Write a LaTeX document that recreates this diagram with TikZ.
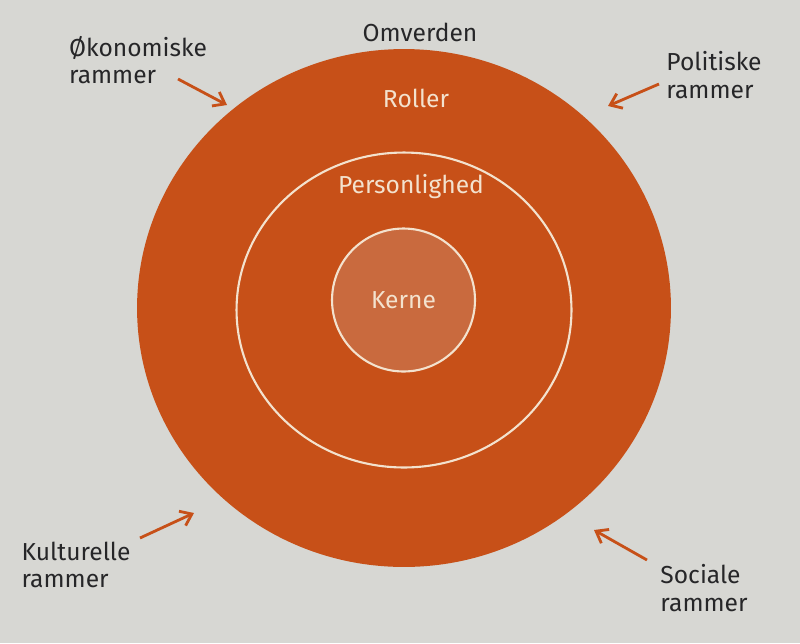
\documentclass[tikz,border=0pt]{standalone}
\usepackage{fontspec}
\setmainfont{Fira Sans}
\usetikzlibrary{shapes.geometric, arrows.meta}
\definecolor{paper}{RGB}{215,215,211}
\definecolor{ringorange}{RGB}{199,80,24}
\definecolor{coreorange}{RGB}{201,106,62}
\definecolor{cream}{RGB}{243,226,206}
\definecolor{ink}{RGB}{38,38,40}

\begin{document}
\begin{tikzpicture}[x=0.02cm, y=-0.02cm,
    ring/.style = {draw=none, fill=ringorange, ellipse, inner sep=0pt},
    inner ring/.style = {draw=cream, line width=1.2pt, ellipse, inner sep=0pt},
    core/.style = {draw=cream, line width=1.2pt, circle, fill=coreorange, inner sep=0pt, text=cream, font=\fontsize{14}{16}\selectfont},
    ring label/.style = {text=cream, font=\fontsize{14}{16}\selectfont},
    frame/.style = {text=ink, align=left, font=\fontsize{14}{15.5}\selectfont},
    push/.style = {ringorange, line width=1.6pt, -{Straight Barb[length=6pt, width=9pt, line width=1.6pt]}}]
    \fill[paper] (0,0) rectangle (800,643);
    \useasboundingbox (0,0) rectangle (800,643);

    \node[ring, minimum width=10.68cm, minimum height=10.36cm] (roller ring) at (404,308) {};
    \node[inner ring, minimum width=6.70cm, minimum height=6.30cm] (pers ring) at (404,310) {};
    \node[core, minimum size=2.86cm] (kerne) at (403.5,300) {Kerne};

    \node[ring label] (roller) at (416,98) {Roller};
    \node[ring label] (pers) at (411,187) {Personlighed};
    \node[text=ink, font=\fontsize{14}{16}\selectfont] (omverden) at (420,32) {Omverden};

    \node[frame] (oek) at (138,60) {Økonomiske\\rammer};
    \node[frame] (pol) at (714,75) {Politiske\\rammer};
    \node[frame] (kul) at (76,565) {Kulturelle\\rammer};
    \node[frame] (soc) at (704,588) {Sociale\\rammer};

    \coordinate (oek from) at (178,79);
    \coordinate (oek to) at (227,105);
    \coordinate (pol from) at (659,84);
    \coordinate (pol to) at (608,106);
    \coordinate (kul from) at (140,538);
    \coordinate (kul to) at (194,513);
    \coordinate (soc from) at (647,560);
    \coordinate (soc to) at (594,530);

    \draw[push] (oek from) -- (oek to);
    \draw[push] (pol from) -- (pol to);
    \draw[push] (kul from) -- (kul to);
    \draw[push] (soc from) -- (soc to);
\end{tikzpicture}
\end{document}
